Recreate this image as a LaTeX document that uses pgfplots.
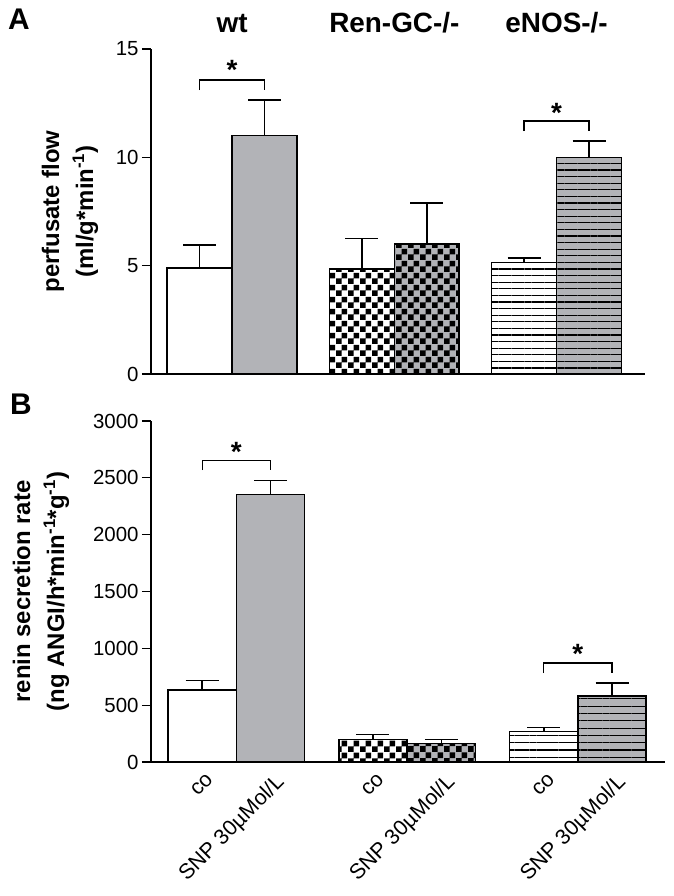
\documentclass[border=0pt]{standalone}
\usepackage{pgfplots}
\pgfplotsset{compat=1.18}
\usepackage{fontspec}
\setmainfont{Liberation Sans}
\usetikzlibrary{patterns,patterns.meta}
\definecolor{bargray}{RGB}{178,179,183}
\pgfdeclarepatternformonly{checkA}{\pgfpointorigin}{\pgfpoint{12bp}{12bp}}{\pgfpoint{12bp}{12bp}}{%
 \pgfpathrectangle{\pgfpointorigin}{\pgfpoint{6bp}{6bp}}%
 \pgfpathrectangle{\pgfpoint{6bp}{6bp}}{\pgfpoint{6bp}{6bp}}%
 \pgfusepath{fill}}
\tikzset{
 sigstar/.style={anchor=base, font=\fontsize{28}{30}\selectfont\bfseries, inner sep=0pt},
 grplab/.style={anchor=base, font=\fontsize{28}{30}\selectfont\bfseries, inner sep=0pt},
}
\pgfplotsset{
 bb/.style={ybar, bar width=0.4, bar shift=0pt, draw=black, line width=1.5bp,
   /pgfplots/error bars/y dir=plus, /pgfplots/error bars/y explicit,
   /pgfplots/error bars/error bar style={line width=1.5bp, black},
   /pgfplots/error bars/error mark options={rotate=90, mark size=16.5bp, line width=1.5bp, black}},
 common/.style={scale only axis, anchor=south west, clip=false,
   axis x line*=bottom, axis y line*=left, axis line style={line width=1.3bp},
   tick align=outside, major tick length=9bp, tick style={line width=1.3bp, black},
   xtick style={draw=none},
   /pgf/number format/assume math mode=true, /pgf/number format/1000 sep={},
   yticklabel style={font=\fontsize{20.5}{24}\selectfont},
   ylabel style={align=center, font=\fontsize{24}{34}\selectfont\bfseries, anchor=center}},
}
\begin{document}
\begin{tikzpicture}
\useasboundingbox (0,0) rectangle (674bp,896bp);
\node[anchor=base west, font=\fontsize{30}{32}\selectfont\bfseries, inner sep=0pt] at (8bp,866bp) {A};
\node[anchor=base west, font=\fontsize{30}{32}\selectfont\bfseries, inner sep=0pt] at (10bp,481bp) {B};
% Panel A
\begin{axis}[common, at={(151bp,522bp)}, width=494bp, height=325bp,
  xmin=0.5, xmax=3.545, ymin=0, ymax=15, xtick=\empty, ytick={0,5,10,15},
  ylabel={perfusate flow\\(ml/g*min\textsuperscript{-1})},
  ylabel style={at={(axis description cs:-0.164,0.5)}}]
\addplot[bb, fill=white] coordinates {(0.8,4.9) +- (0,1.05)};
\addplot[bb, fill=bargray] coordinates {(1.2,11.0) +- (0,1.65)};
\addplot[bb, fill=white, postaction={pattern color=black, pattern=checkA}] coordinates {(1.8,4.85) +- (0,1.4)};
\addplot[bb, fill=bargray, postaction={pattern color=black, pattern=checkA}] coordinates {(2.2,6.0) +- (0,1.9)};
\addplot[bb, fill=white, postaction={pattern color=black, pattern={Lines[angle=0,distance=6.6bp,line width=1.1bp]}}] coordinates {(2.8,5.15) +- (0,0.2)};
\addplot[bb, fill=bargray, postaction={pattern color=black, pattern={Lines[angle=0,distance=6.6bp,line width=1.1bp]}}] coordinates {(3.2,10.0) +- (0,0.75)};
\draw[line width=1.3bp] (axis cs:0.8,13.1) |- (axis cs:1.2,13.57) -- (axis cs:1.2,13.1);
\node[sigstar] at (axis cs:1,13.57) {*};
\draw[line width=1.3bp] (axis cs:2.8,11.21) |- (axis cs:3.2,11.67) -- (axis cs:3.2,11.21);
\node[sigstar] at (axis cs:3,11.63) {*};
\node[grplab] at (axis cs:1,15.74) {wt};
\node[grplab] at (axis cs:2,15.74) {Ren-GC-/-};
\node[grplab] at (axis cs:3,15.74) {eNOS-/-};
\end{axis}
% Panel B
\begin{axis}[common, at={(151bp,134bp)}, width=514bp, height=341bp,
  xmin=0.5, xmax=3.51, ymin=0, ymax=3000, ytick={0,500,...,3000},
  xtick={0.8,1.2,1.8,2.2,2.8,3.2},
  xticklabels={co,SNP 30µMol/L,co,SNP 30µMol/L,co,SNP 30µMol/L},
  xticklabel style={rotate=45, anchor=north east, xshift=5bp, font=\fontsize{21.5}{24}\selectfont},
  ylabel={renin secretion rate\\(ng ANGI/h*min\textsuperscript{-1}*g\textsuperscript{-1})},
  ylabel style={at={(axis description cs:-0.214,0.5)}}]
\addplot[bb, fill=white] coordinates {(0.8,633) +- (0,82)};
\addplot[bb, fill=bargray] coordinates {(1.2,2355) +- (0,122)};
\addplot[bb, fill=white, postaction={pattern color=black, pattern=checkA}] coordinates {(1.8,199) +- (0,44)};
\addplot[bb, fill=bargray, postaction={pattern color=black, pattern=checkA}] coordinates {(2.2,164) +- (0,32)};
\addplot[bb, fill=white, postaction={pattern color=black, pattern={Lines[angle=0,distance=7.3bp,line width=1.1bp]}}] coordinates {(2.8,267) +- (0,38)};
\addplot[bb, fill=bargray, postaction={pattern color=black, pattern={Lines[angle=0,distance=7.3bp,line width=1.1bp]}}] coordinates {(3.2,580) +- (0,117)};
\draw[line width=1.3bp] (axis cs:0.8,2567) |- (axis cs:1.2,2654) -- (axis cs:1.2,2567);
\node[sigstar] at (axis cs:1,2646) {*};
\draw[line width=1.3bp] (axis cs:2.8,782) |- (axis cs:3.2,870) -- (axis cs:3.2,782);
\node[sigstar] at (axis cs:3,870) {*};
\end{axis}
\end{tikzpicture}
\end{document}
